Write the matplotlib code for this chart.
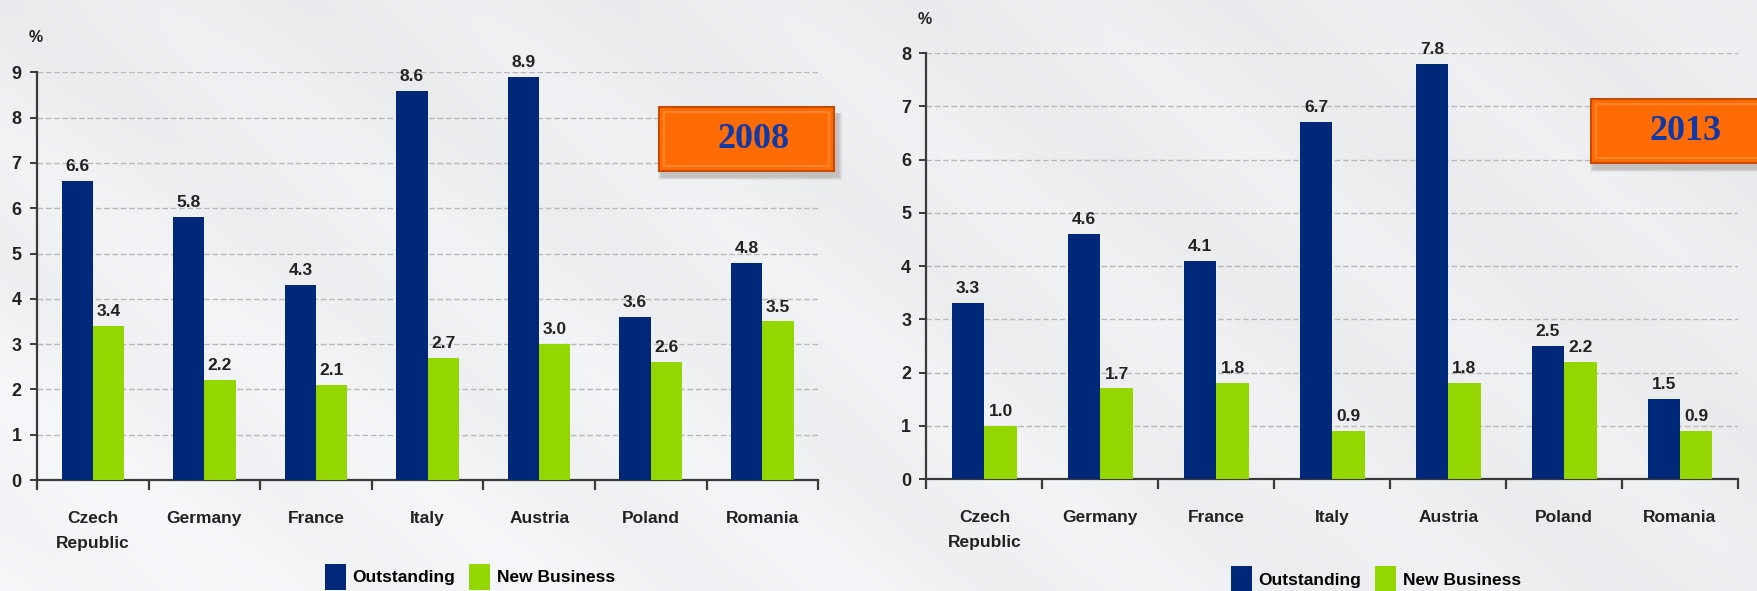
import matplotlib
matplotlib.use("Agg")
import matplotlib.pyplot as plt
import numpy as np
from matplotlib.patches import FancyBboxPatch, Patch

countries = ["Czech\nRepublic", "Germany", "France", "Italy", "Austria", "Poland", "Romania"]
out_2008 = [6.6, 5.8, 4.3, 8.6, 8.9, 3.6, 4.8]
new_2008 = [3.4, 2.2, 2.1, 2.7, 3.0, 2.6, 3.5]
out_2013 = [3.3, 4.6, 4.1, 6.7, 7.8, 2.5, 1.5]
new_2013 = [1.0, 1.7, 1.8, 0.9, 1.8, 2.2, 0.9]
series_names = ["Outstanding", "New Business"]

BLUE = "#002878"
GREEN = "#94d600"
ORANGE = "#ff6c05"
TXT = "#222222"

plt.rcParams['font.family'] = ['Liberation Sans', 'DejaVu Sans']
plt.rcParams['font.weight'] = 'bold'

fig = plt.figure(figsize=(17.58, 5.91), dpi=100)

# background gradient
bg = fig.add_axes([0, 0, 1, 1], zorder=-10)
yy, xx = np.mgrid[0:1:200j, 0:1:600j]
g = 0.93 + 0.04 * (1 - xx) * yy + 0.02 * np.sin((xx * 3 - yy * 1.2) * 6) ** 2
bg.imshow(np.dstack([g * 0.985, g * 0.99, g * 1.0]).clip(0, 1), aspect='auto',
          extent=[0, 1, 0, 1], origin='upper')
bg.axis('off')


def draw(rect, outv, newv, ymax, year, box, legend_pos):
    ax = fig.add_axes(rect)
    ax.patch.set_alpha(0)
    x = np.arange(len(countries))
    w = 0.28
    b1 = ax.bar(x - w / 2, outv, w, color=BLUE, zorder=3)
    b2 = ax.bar(x + w / 2, newv, w, color=GREEN, zorder=3)
    for bars, vals in ((b1, outv), (b2, newv)):
        for rect_, v in zip(bars, vals):
            ax.annotate(f"{v:.1f}", (rect_.get_x() + rect_.get_width() / 2, v),
                        xytext=(0, 5), textcoords='offset points', ha='center',
                        va='bottom', fontsize=12.5, fontweight='bold', color=TXT)
    ax.set_xlim(-0.5, len(countries) - 0.5)
    ax.set_ylim(0, ymax)
    ax.set_yticks(range(0, ymax + 1))
    ax.yaxis.grid(True, linestyle=(0, (4, 2)), color='#b8b8b8', linewidth=1, zorder=0)
    for s in ('top', 'right'):
        ax.spines[s].set_visible(False)
    for s in ('left', 'bottom'):
        ax.spines[s].set_color('#3a3a3a')
        ax.spines[s].set_linewidth(1.6)
    ax.set_xticks(x)
    ax.set_xticklabels(countries, fontsize=12.5, fontweight='bold', color=TXT,
                       linespacing=1.9, va='top')
    ax.tick_params(axis='x', which='major', length=0, pad=22)
    ax.set_xticks(np.arange(-0.5, len(countries)), minor=True)
    ax.tick_params(axis='x', which='minor', length=7, width=1.6, color='#3a3a3a', direction='out')
    ax.tick_params(axis='y', length=5, width=1.4, color='#3a3a3a', labelsize=13, labelcolor=TXT, pad=6)
    for lab in ax.get_yticklabels():
        lab.set_fontweight('bold')

    # year box with soft shadow and bevel
    bx, by, bw, bh = box
    for i, a in enumerate([0.10, 0.10, 0.12, 0.14]):
        d = 0.0012 * (4 - i)
        fig.patches.append(FancyBboxPatch((bx + 0.002 - d / 2, by - 0.010 - d), bw + d, bh + d,
                                          boxstyle='square,pad=0', transform=fig.transFigure,
                                          facecolor='#8a7f78', edgecolor='none', alpha=a, zorder=4))
    fig.patches.append(FancyBboxPatch((bx, by), bw, bh, boxstyle='square,pad=0',
                                      transform=fig.transFigure, facecolor=ORANGE,
                                      edgecolor='#c84a00', linewidth=1.5, zorder=5))
    fig.patches.append(FancyBboxPatch((bx + 0.003, by + 0.008), bw - 0.006, bh - 0.016,
                                      boxstyle='square,pad=0', transform=fig.transFigure,
                                      facecolor='none', edgecolor='#ff9a4a', linewidth=1.2,
                                      alpha=0.7, zorder=5))
    fig.text(bx + bw / 2 + 0.004, by + bh / 2, year, fontsize=26, fontweight='bold',
             family=['Liberation Serif', 'DejaVu Serif'], color='#0f38a8',
             ha='center', va='center', zorder=6)

    handles = [Patch(facecolor=BLUE), Patch(facecolor=GREEN)]
    fig.legend(handles, series_names, loc='center', bbox_to_anchor=legend_pos,
               ncol=2, frameon=False, fontsize=12.5, handlelength=1.2, handleheight=1.9,
               handletextpad=0.4, columnspacing=0.8, borderaxespad=0)
    return ax


ax1 = draw([0.02105, 0.1878, 0.4443, 0.6897], out_2008, new_2008, 9, "2008",
           (659 / 1758, (591 - 171) / 591, 175 / 1758, 64 / 591), (470 / 1758, 0.024))
ax2 = draw([0.5270, 0.1895, 0.4616, 0.7208], out_2013, new_2013, 8, "2013",
           (1591 / 1758, (591 - 163) / 591, 175 / 1758, 64 / 591), (1376 / 1758, 0.020))

fig.text(36 / 1758, (591 - 38) / 591, "%", fontsize=11.5, fontweight='bold', color=TXT,
         ha='center', va='center')
fig.text(925 / 1758, (591 - 19) / 591, "%", fontsize=11.5, fontweight='bold', color=TXT,
         ha='center', va='center')

fig.savefig("out.png", dpi=100)
